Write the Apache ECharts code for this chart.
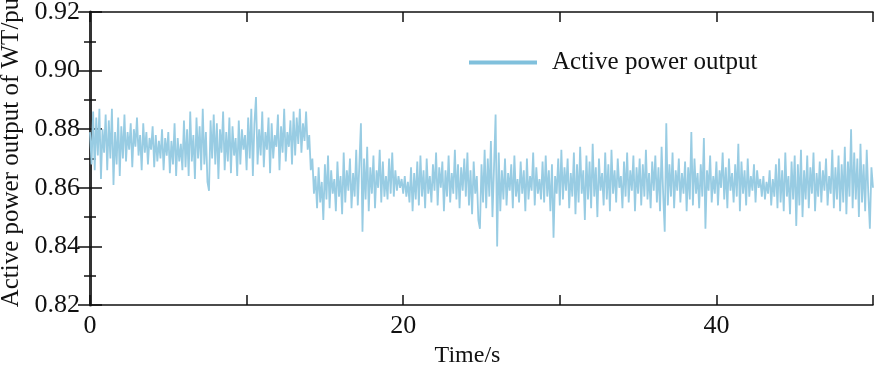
<!DOCTYPE html>
<html>
<head>
<meta charset="utf-8">
<script src="https://cdn.jsdelivr.net/npm/echarts@6/dist/echarts.min.js"></script>
<style>
  html, body { margin: 0; padding: 0; background: #fff; }
  #chart { width: 876px; height: 365px; }
</style>
</head>
<body>
<div id="chart"></div>
<script>
const timeStep = 0.1
const power = [
  0.879,0.868,0.886,0.866,0.884,0.871,0.887,0.863,0.880,0.872,
  0.885,0.866,0.883,0.870,0.887,0.861,0.879,0.868,0.884,0.864,
  0.881,0.870,0.885,0.869,0.879,0.873,0.882,0.867,0.880,0.874,
  0.884,0.871,0.878,0.866,0.882,0.872,0.879,0.868,0.877,0.873,
  0.881,0.867,0.878,0.869,0.876,0.870,0.880,0.866,0.877,0.871,
  0.879,0.865,0.876,0.868,0.882,0.864,0.877,0.869,0.875,0.866,
  0.883,0.867,0.880,0.864,0.886,0.869,0.878,0.863,0.884,0.870,
  0.881,0.866,0.887,0.868,0.879,0.862,0.859,0.883,0.870,0.885,
  0.868,0.882,0.863,0.880,0.872,0.886,0.866,0.879,0.869,0.884,
  0.865,0.881,0.871,0.877,0.864,0.883,0.868,0.880,0.873,0.878,
  0.866,0.884,0.870,0.887,0.864,0.882,0.891,0.868,0.880,0.871,
  0.886,0.867,0.879,0.873,0.884,0.865,0.882,0.870,0.878,0.874,
  0.885,0.866,0.881,0.872,0.887,0.869,0.879,0.874,0.883,0.868,
  0.886,0.871,0.884,0.875,0.887,0.872,0.882,0.876,0.886,0.873,
  0.878,0.866,0.870,0.858,0.864,0.853,0.867,0.855,0.862,0.849,
  0.868,0.856,0.871,0.853,0.866,0.858,0.863,0.852,0.869,0.857,
  0.864,0.851,0.872,0.855,0.866,0.859,0.870,0.853,0.865,0.857,
  0.873,0.854,0.868,0.882,0.845,0.870,0.856,0.874,0.852,0.867,
  0.858,0.871,0.853,0.866,0.860,0.873,0.855,0.869,0.857,0.864,
  0.856,0.870,0.858,0.872,0.857,0.866,0.859,0.864,0.860,0.863,
  0.858,0.864,0.857,0.862,0.855,0.867,0.852,0.865,0.856,0.869,
  0.854,0.871,0.857,0.866,0.853,0.870,0.858,0.864,0.855,0.868,
  0.859,0.872,0.854,0.867,0.860,0.869,0.852,0.866,0.857,0.871,
  0.855,0.865,0.858,0.873,0.856,0.868,0.853,0.867,0.859,0.870,
  0.857,0.872,0.854,0.866,0.851,0.869,0.858,0.864,0.849,0.846,
  0.868,0.855,0.873,0.853,0.870,0.857,0.876,0.850,0.867,0.885,
  0.840,0.872,0.852,0.866,0.856,0.870,0.854,0.865,0.859,0.868,
  0.853,0.871,0.857,0.863,0.855,0.869,0.858,0.866,0.852,0.870,
  0.856,0.864,0.859,0.872,0.854,0.867,0.858,0.863,0.856,0.869,
  0.855,0.871,0.857,0.866,0.852,0.868,0.843,0.864,0.858,0.870,
  0.854,0.873,0.856,0.867,0.859,0.870,0.853,0.865,0.857,0.872,
  0.851,0.868,0.855,0.874,0.858,0.866,0.849,0.871,0.856,0.869,
  0.853,0.875,0.857,0.867,0.850,0.870,0.859,0.865,0.854,0.872,
  0.856,0.868,0.852,0.873,0.858,0.866,0.855,0.870,0.860,0.864,
  0.853,0.869,0.857,0.872,0.855,0.866,0.859,0.871,0.852,0.867,
  0.858,0.870,0.854,0.868,0.857,0.873,0.856,0.865,0.853,0.869,
  0.859,0.871,0.855,0.867,0.852,0.874,0.858,0.845,0.882,0.854,
  0.868,0.857,0.872,0.853,0.866,0.859,0.870,0.855,0.865,0.858,
  0.869,0.852,0.867,0.856,0.879,0.854,0.870,0.858,0.865,0.853,
  0.868,0.857,0.877,0.846,0.866,0.859,0.871,0.855,0.864,0.858,
  0.869,0.854,0.866,0.860,0.872,0.856,0.867,0.853,0.870,0.859,
  0.865,0.855,0.868,0.857,0.875,0.852,0.869,0.858,0.866,0.854,
  0.870,0.857,0.864,0.859,0.868,0.855,0.866,0.860,0.863,0.857,
  0.864,0.856,0.862,0.858,0.866,0.854,0.863,0.857,0.868,0.853,
  0.870,0.855,0.866,0.852,0.872,0.857,0.864,0.851,0.869,0.856,
  0.871,0.847,0.868,0.854,0.873,0.850,0.866,0.856,0.871,0.853,
  0.867,0.858,0.872,0.852,0.865,0.857,0.869,0.855,0.866,0.859,
  0.870,0.854,0.864,0.858,0.873,0.853,0.867,0.856,0.871,0.852,
  0.868,0.855,0.874,0.851,0.869,0.857,0.880,0.853,0.872,0.856,
  0.870,0.850,0.875,0.855,0.868,0.852,0.873,0.858,0.846,0.867,
  0.860
]
const xTicks = [0, 20, 40]
const yRange = [0.82, 0.92]

const font = 'Liberation Serif'
const lineColor = '#98cce3'

const chart = echarts.init(document.getElementById('chart'))

const seriesData = power.map((v, i) => [+(i * timeStep).toFixed(1), v])

// common bits for the boxed frame
const axisLineStyle = { show: true, lineStyle: { color: '#111', width: 1.5 } }
const tickStyle = { color: '#111', width: 1.5 }

chart.setOption({
  animation: false,
  grid: { left: 90, right: 3, top: 12, bottom: 60, outerBoundsMode: 'none', containLabel: false },
  legend: {
    left: 464,
    top: 45,
    icon: 'rect',
    itemWidth: 68,
    itemHeight: 4,
    itemStyle: { color: '#80c0dc' },
    textStyle: { fontFamily: font, fontSize: 25, color: '#111', padding: [0, 0, 0, 10] },
    data: ['Active power output']
  },
  xAxis: [
    {
      type: 'value',
      min: 0,
      max: 50,
      interval: 10,
      name: 'Time/s',
      nameLocation: 'middle',
      nameGap: 37,
      nameTextStyle: { fontFamily: font, fontSize: 24, color: '#111', padding: [0, 28, 0, 0] },
      axisLine: axisLineStyle,
      axisTick: { show: true, inside: true, length: 10, lineStyle: tickStyle },
      axisLabel: {
        fontFamily: font, fontSize: 26, color: '#111', margin: 8,
        formatter: v => (xTicks.indexOf(v) >= 0 ? String(v) : '')
      },
      splitLine: { show: false }
    },
    {
      type: 'value',
      position: 'top',
      min: 0,
      max: 50,
      interval: 10,
      axisLine: axisLineStyle,
      axisTick: { show: true, inside: true, length: 10, lineStyle: tickStyle },
      axisLabel: { show: false },
      splitLine: { show: false }
    }
  ],
  yAxis: [
    {
      type: 'value',
      min: yRange[0],
      max: yRange[1],
      interval: 0.02,
      name: 'Active power output of WT/pu',
      nameLocation: 'middle',
      nameGap: 62,
      nameTextStyle: { fontFamily: font, fontSize: 25, color: '#111', padding: [0, 0, 0, 12] },
      axisLine: axisLineStyle,
      axisTick: { show: true, inside: true, length: 12, lineStyle: tickStyle },
      minorTick: { show: true, splitNumber: 2, length: 6, lineStyle: tickStyle },
      axisLabel: {
        fontFamily: font, fontSize: 26, color: '#111', margin: 10,
        formatter: v => v.toFixed(2)
      },
      splitLine: { show: false },
      minorSplitLine: { show: false }
    },
    {
      type: 'value',
      position: 'right',
      min: yRange[0],
      max: yRange[1],
      interval: 0.02,
      axisLine: { show: true, lineStyle: { color: '#333', width: 3 } },
      axisTick: { show: true, inside: true, length: 12, lineStyle: tickStyle },
      minorTick: { show: true, splitNumber: 2, length: 6, lineStyle: tickStyle },
      axisLabel: { show: false },
      splitLine: { show: false },
      minorSplitLine: { show: false }
    }
  ],
  series: [
    {
      name: 'Active power output',
      type: 'line',
      data: seriesData,
      showSymbol: false,
      symbol: 'none',
      color: lineColor,
      lineStyle: { color: lineColor, width: 1.8 },
      sampling: false
    }
  ]
})
</script>
</body>
</html>
